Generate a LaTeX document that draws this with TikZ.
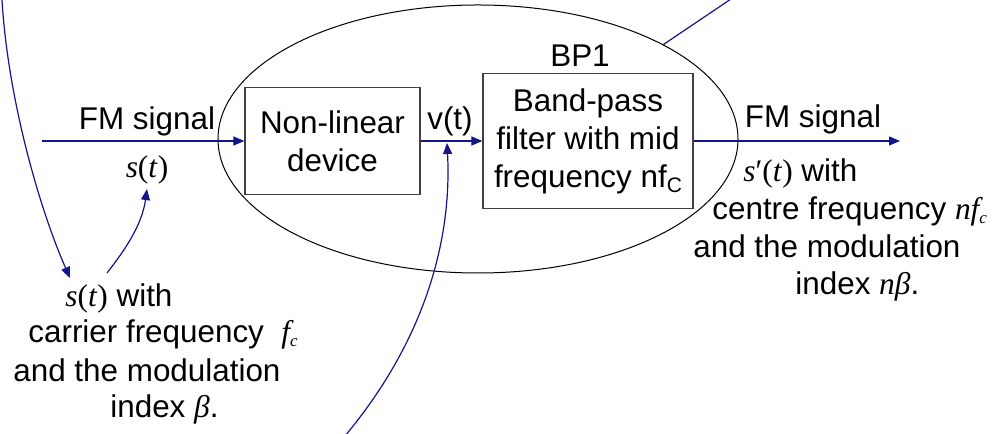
\documentclass[tikz,border=0pt]{standalone}
\usepackage{fontspec}
\setmainfont{Liberation Sans}
\newfontfamily\tms{Liberation Serif}
\usetikzlibrary{arrows.meta,shapes.geometric}
\definecolor{sigblue}{RGB}{20,20,140}
% italic serif variables, as in the formulas
\newcommand\mv[1]{{\tms\itshape #1}}
\newcommand\msub[1]{\raisebox{-2bp}{\fontsize{8.5bp}{8.5bp}\selectfont\tms\itshape #1}}
\newcommand\bsub[1]{\raisebox{-2.5bp}{\fontsize{10.5bp}{10.5bp}\selectfont #1}}
\newcommand\sfun[1]{{\tms\textit{s}#1(\textit{t})}}
\tikzset{
  sig/.style={draw=sigblue, line width=0.6bp, -{Triangle[length=5.5bp,width=4.5bp]}},
  wire/.style={draw=sigblue, line width=0.6bp},
  block/.style={draw=black!75, line width=0.6bp, align=center, inner sep=0},
  lbl/.style={inner sep=0, anchor=base},
  txt/.style={inner sep=0, anchor=base west},
}
\begin{document}
\begin{tikzpicture}[x=0.5bp, y=-0.5bp, font=\fontsize{15.7bp}{19bp}\selectfont]
\useasboundingbox (0,0) rectangle (997,434);
% frequency multiplier
\node[draw, ellipse, line width=0.5bp, minimum width=260bp, minimum height=134bp, inner sep=0] (sys) at (478,139) {};
\node[block, minimum width=87.5bp, minimum height=53.5bp] (nld) at (332.5,141) {Non-linear\\device};
\node[block, minimum width=105bp, minimum height=67.5bp] (bpf) at (588,141) {Band-pass\\filter with mid\\frequency nf\bsub{C}};
\node[lbl] (bpname) at (580,67) {BP1};
\node[lbl] (vt) at (450,130) {v(t)};

% signal path
\coordinate (in) at (42,141);
\coordinate (out) at (900,141);
\draw[sig] (in) -- (nld);
\draw[sig] (nld) -- (bpf);
\draw[sig] (bpf) -- (out);
\node[lbl] (fmin) at (147,130) {FM signal};
\node[lbl, inner sep=2bp] (sin) at (147,178) {\sfun{}};
\node[lbl] (fmout) at (813,128) {FM signal};

% input description
\node[txt] (src1) at (65,307) {\sfun{}\ with};
\node[txt] (src2) at (28,343) {carrier frequency\ \ \mv{f}\msub{c}};
\node[txt] (src3) at (13,382) {and the modulation};
\node[txt] (src4) at (110,418) {index \mv{β}.};

% output description
\node[txt] (res1) at (743,182) {\sfun{\symbol{"2032}}\ with};
\node[txt] (res2) at (712,220) {centre frequency \mv{nf}\msub{c}};
\node[txt] (res3) at (693,258) {and the modulation};
\node[txt] (res4) at (795,295) {index \mv{nβ}.};

% pointers
\coordinate (feedin) at (2,0);
\coordinate (tipA) at (70,278);
\coordinate (srcup) at (107,273);
\coordinate (vin) at (345,436);
\coordinate (vtap) at (447,143);
\coordinate (feedout) at (731,-1);
\draw[sig] (feedin) .. controls (8,100) and (40,210) .. (tipA);
\draw[sig] (srcup) .. controls (125,250) and (142,225) .. (sin.south);
\draw[sig] (vin) .. controls (425,340) and (452,240) .. (vtap);
\draw[wire] (sys.27) -- (feedout);
\end{tikzpicture}
\end{document}
